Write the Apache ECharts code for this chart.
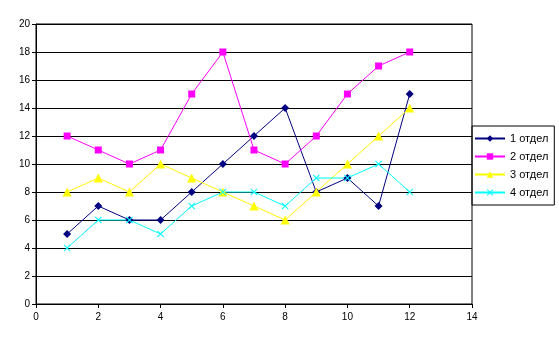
<!DOCTYPE html>
<html><head><meta charset="utf-8">
<script src="https://cdn.jsdelivr.net/npm/echarts@6/dist/echarts.min.js"></script>
<style>html,body{margin:0;padding:0;background:#fff}#c{width:559px;height:345px}</style>
</head><body><div id="c"></div>
<script>
const xValues = [1,2,3,4,5,6,7,8,9,10,11,12];
const seriesNames = ['1 отдел','2 отдел','3 отдел','4 отдел'];
const dept1 = [5,7,6,6,8,10,12,14,8,9,7,15];
const dept2 = [12,11,10,11,15,18,11,10,12,15,17,18];
const dept3 = [8,9,8,10,9,8,7,6,8,10,12,14];
const dept4 = [4,6,6,5,7,8,8,7,9,9,10,8];
const colors = ['#000080','#FF00FF','#FFFF00','#00FFFF'];
const xPath = 'path://M0,1L1,0L5,4L9,0L10,1L6,5L10,9L9,10L5,6L1,10L0,9L4,5Z';
const symbols = ['diamond','rect','triangle',xPath];
const sizes = [8,7,9,7];
const all = [dept1,dept2,dept3,dept4];
const font = {fontFamily:'Liberation Sans, Arial', fontSize:10, color:'#000'};
const chart = echarts.init(document.getElementById('c'));
chart.setOption({
  animation:false,
  grid:{left:36,right:87,top:24,bottom:41,show:true,borderColor:'#000',borderWidth:1,backgroundColor:'transparent'},
  xAxis:{type:'value',min:0,max:14,interval:2,
    axisLine:{lineStyle:{color:'#000'}},axisTick:{show:true,length:4,lineStyle:{color:'#000'}},
    axisLabel:Object.assign({margin:8},font),splitLine:{show:false}},
  yAxis:{type:'value',min:0,max:20,interval:2,
    axisLine:{show:true,lineStyle:{color:'#000'}},axisTick:{show:true,length:4,lineStyle:{color:'#000'}},
    axisLabel:Object.assign({margin:6},font),splitLine:{show:true,lineStyle:{color:'#000',width:1}}},
  legend:{orient:'vertical',left:472,top:126,width:80,itemWidth:30,itemHeight:8,itemGap:7,
    padding:[7,6,7,2],borderColor:'#000',borderWidth:1,
    textStyle:{fontFamily:'Liberation Sans, Arial',fontSize:11,color:'#000'},
    data:seriesNames},
  series: seriesNames.map((n,i)=>({
    name:n,type:'line',data:xValues.map((x,j)=>[x,all[i][j]]),
    symbol:symbols[i],symbolSize:sizes[i],showSymbol:true,
    lineStyle:{color:colors[i],width:1},itemStyle:{color:colors[i]},
    emphasis:{disabled:true}
  }))
});
</script></body></html>
